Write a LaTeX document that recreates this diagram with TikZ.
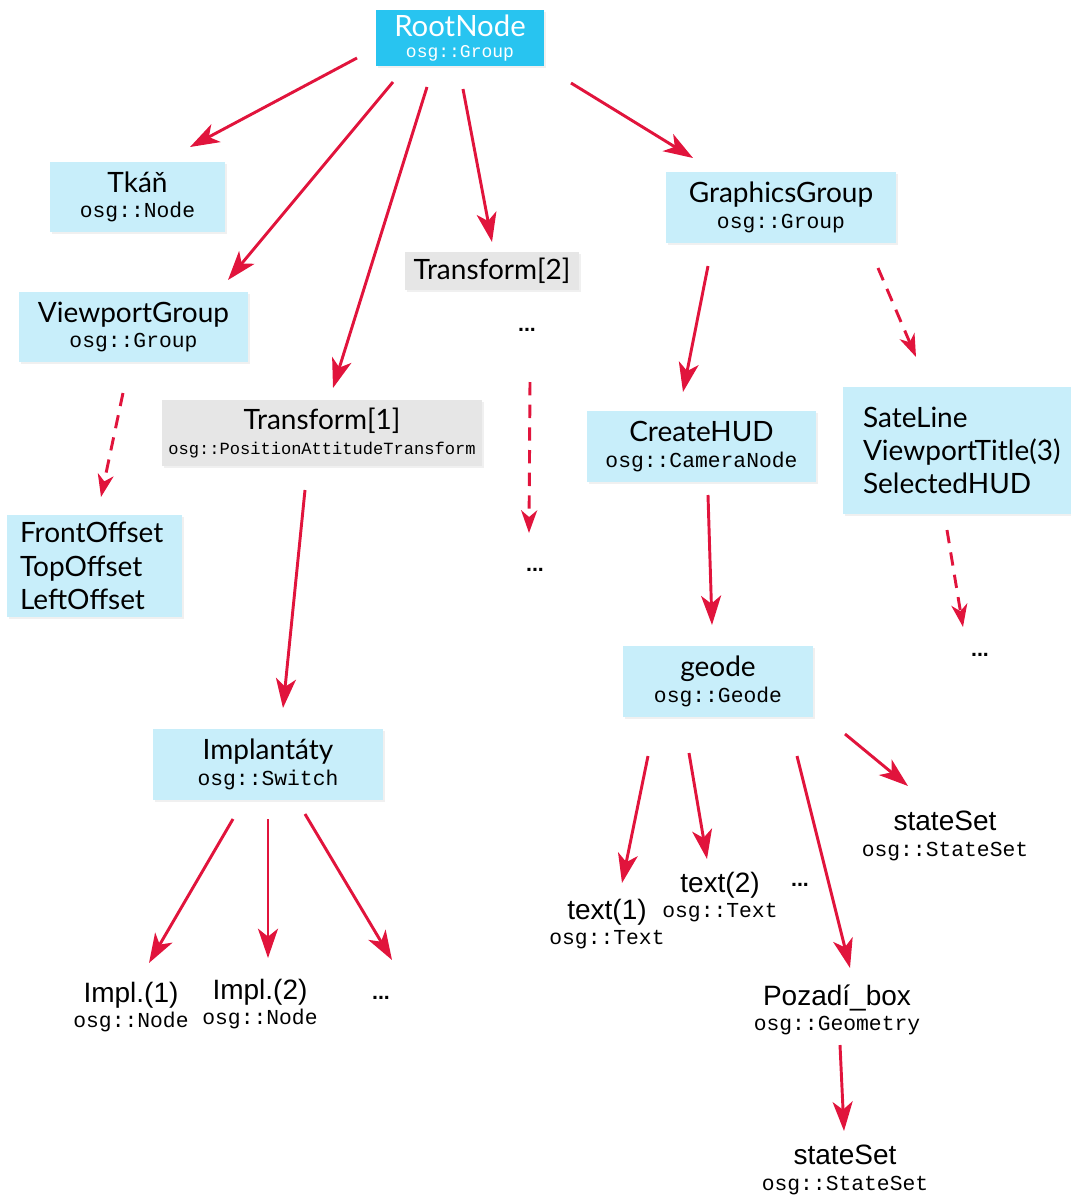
\documentclass[tikz,border=0pt]{standalone}
\usepackage{fontspec}
\setmainfont{Liberation Sans}
\setmonofont{Liberation Mono}
\newfontfamily\hudfont{Lato}
\usepackage{xcolor}
\usetikzlibrary{calc,arrows.meta,shadows}

\definecolor{boxcyan}{RGB}{200,238,250}
\definecolor{rootcyan}{RGB}{40,196,240}
\definecolor{boxgray}{RGB}{230,230,230}
\definecolor{arrred}{RGB}{225,20,60}

\newcommand{\cls}[1]{{\ttfamily\fontsize{16}{19}\selectfont #1}}

\begin{document}
\begin{tikzpicture}[x=0.75pt,y=0.75pt,yscale=-1,xscale=1,
  box/.style={fill=boxcyan, inner sep=0pt, align=center,
    font=\hudfont\fontsize{21}{19}\selectfont,
    drop shadow={opacity=0.12, shadow xshift=1.5pt, shadow yshift=-1.5pt}},
  graybox/.style={box, fill=boxgray},
  listbox/.style={box, align=left, font=\hudfont\fontsize{21}{25}\selectfont},
  boxsize/.style 2 args={minimum width=#1*0.75pt, minimum height=#2*0.75pt},
  label/.style={inner sep=0pt, align=center, font=\fontsize{21}{19}\selectfont},
  dots/.style={inner sep=0pt, font=\bfseries\fontsize{16}{16}\selectfont},
  arr/.style={draw=arrred, line width=2.2pt, -{Stealth[length=22pt,width=15pt,inset=6pt]}},
  dasharr/.style={arr, dash pattern=on 10pt off 7pt, -{Stealth[length=17pt,width=12pt,inset=5pt]}}
]
\useasboundingbox (0,0) rectangle (1071,1196);

% boxes
\draw (460,38) node (root) [box, fill=rootcyan, text=white, boxsize={168}{56}, font=\hudfont\fontsize{22}{16}\selectfont] {RootNode\\{\ttfamily\fontsize{13.5}{16}\selectfont osg::Group}};

\draw (137.5,197) node (tkan) [box, boxsize={175}{70}] {Tkáň\\\cls{osg::Node}};

\draw (133.5,327) node (vpgroup) [box, boxsize={229}{70}] {ViewportGroup\\\cls{osg::Group}};

\draw (492,271) node (trans2) [graybox, boxsize={174}{38}] {Transform[2]};

\draw (322,433) node (trans1) [graybox, boxsize={320}{66}] {Transform[1]\\{\ttfamily\fontsize{12.8}{19}\selectfont osg::PositionAttitudeTransform}};

\draw (781,207.5) node (ggroup) [box, boxsize={230}{71}] {GraphicsGroup\\\cls{osg::Group}};

\draw (701.5,446.5) node (hud) [box, boxsize={229}{71}] {CreateHUD\\\cls{osg::CameraNode}};

\draw (957,450.5) node (hudlist) [listbox, boxsize={228}{127}, text width=141pt, inner xsep=15pt] {SateLine\\ViewportTitle(3)\\SelectedHUD};

\draw (94.5,566) node (offsets) [listbox, boxsize={175}{102}, text width=111.75pt, inner xsep=9.75pt] {FrontOffset\\TopOffset\\LeftOffset};

\draw (718,681.5) node (geode) [box, boxsize={190}{71}] {geode\\\cls{osg::Geode}};

\draw (268,764.5) node (implant) [box, boxsize={230}{71}] {Implantáty\\\cls{osg::Switch}};

% plain labels
\draw (945,836) node (state1) [label] {stateSet\\\cls{osg::StateSet}};
\draw (607,924) node (text1) [label] {text(1)\\\cls{osg::Text}};
\draw (720,897) node (text2) [label] {text(2)\\\cls{osg::Text}};
\draw (837,1010) node (pozadi) [label] {Pozadí\_box\\\cls{osg::Geometry}};
\draw (845,1170) node (state2) [label] {stateSet\\\cls{osg::StateSet}};
\draw (131,1007) node (impl1) [label] {Impl.(1)\\\cls{osg::Node}};
\draw (260,1004) node (impl2) [label] {Impl.(2)\\\cls{osg::Node}};

\draw (527,330) node (dotsa) [dots] {...};
\draw (535,570) node (dotsb) [dots] {...};
\draw (980,655) node (dotsc) [dots] {...};
\draw (800,885) node (dotsd) [dots] {...};
\draw (381,998) node (dotse) [dots] {...};

% arrows
\draw[arr] ($(root)+(-103,20)$) -- ($(tkan)+(52.5,-50)$);
\draw[arr] ($(root)+(-67,44)$) -- ($(vpgroup)+(94.5,-47)$);
\draw[arr] ($(root)+(-33,49)$) -- ($(trans1)+(11,-45)$);
\draw[arr] ($(root)+(3,51)$) -- ($(trans2)+(0,-29)$);
\draw[arr] ($(root)+(111,45)$) -- ($(ggroup)+(-88,-49.5)$);

\draw[arr] ($(ggroup)+(-73,58.5)$) -- ($(hud)+(-18.5,-54.5)$);
\draw[dasharr] ($(ggroup)+(97,60.5)$) -- ($(hudlist)+(-41,-93.5)$);
\draw[dasharr] ($(vpgroup)+(-10.5,66)$) -- ($(offsets)+(6.5,-69)$);
\draw[arr] ($(trans1)+(-17,57)$) -- ($(implant)+(15,-56.5)$);
\draw[dasharr] ($(dotsa)+(3,52)$) -- ($(dotsb)+(-6,-37)$);
\draw[arr] ($(hud)+(6.5,48.5)$) -- ($(geode)+(-6,-56.5)$);
\draw[dasharr] ($(hudlist)+(-10,79.5)$) -- ($(dotsc)+(-17,-28)$);

\draw[arr] ($(geode)+(-70,74.5)$) -- ($(text1)+(15,-41)$);
\draw[arr] ($(geode)+(-29,71.5)$) -- ($(text2)+(-13,-38)$);
\draw[arr] ($(geode)+(79,74.5)$) -- ($(pozadi)+(13,-42)$);
\draw[arr] ($(geode)+(127,52.5)$) -- ($(state1)+(-37,-50)$);
\draw[arr] ($(pozadi)+(3,35)$) -- ($(state2)+(-1,-39)$);

\draw[arr] ($(implant)+(-35,54.5)$) -- ($(impl1)+(18,-44)$);
\draw[arr] ($(implant)+(0,54.5)$) -- ($(impl2)+(8,-46)$);
\draw[arr] ($(implant)+(37,49.5)$) -- ($(dotse)+(11,-38)$);

\end{tikzpicture}
\end{document}
